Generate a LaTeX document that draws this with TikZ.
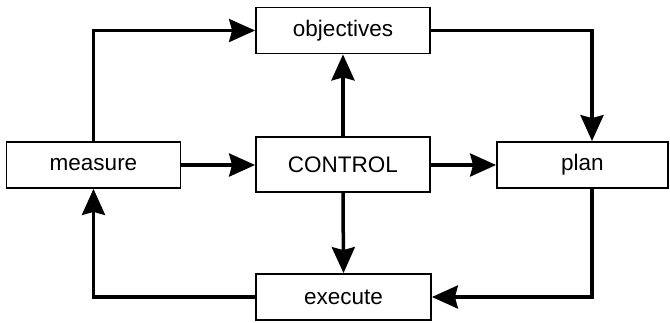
\documentclass[tikz,border=0pt]{standalone}
\usepackage{fontspec}
\setmainfont{Liberation Sans}
\usetikzlibrary{arrows.meta}
\begin{document}
\begin{tikzpicture}[x=1pt,y=-1pt,
  box/.style={draw, line width=1.8pt, minimum height=46pt, inner sep=0pt,
              font=\fontsize{22.5pt}{26pt}\selectfont},
  arr/.style={line width=3.5pt, -{Stealth[length=26pt,width=23pt,inset=3pt]}}]
\useasboundingbox[fill=white] (0,0) rectangle (670,322);
\node[box, minimum width=174pt] (obj) at (343,30.5) {objectives};
\node[box, minimum width=174pt, minimum height=55pt] (ctrl) at (343,164.5) {CONTROL};
\node[box, minimum width=174pt] (meas) at (93.5,165) {measure};
\node[box, minimum width=171pt] (plan) at (582.5,165) {plan};
\node[box, minimum width=175pt] (exec) at (343.5,297) {execute};
\draw[arr] (meas.north) |- (obj.west);
\draw[arr] (obj.east) -| ([xshift=9.5pt]plan.north);
\draw[arr] (ctrl.north) -- (obj.south);
\draw[arr] (meas.east) -- (ctrl.west |- meas.east);
\draw[arr] (ctrl.east |- plan.west) -- (plan.west);
\draw[arr] (ctrl.south) -- (exec.north);
\draw[arr] ([xshift=9.5pt]plan.south) |- (exec.east);
\draw[arr] (exec.west) -| (meas.south);
\end{tikzpicture}
\end{document}
